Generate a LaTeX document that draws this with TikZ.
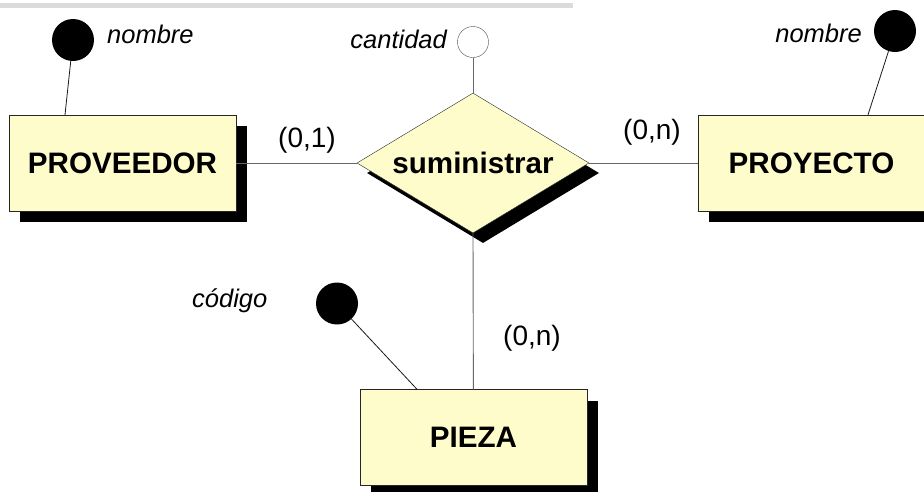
\documentclass[tikz,border=0pt]{standalone}
\usepackage{fontspec}
\setmainfont{Liberation Sans}
\usetikzlibrary{shapes.geometric,shadows}
\newcommand{\Grande}[1]{{\fontsize{28}{30}\selectfont #1}}
\newcommand{\Titulo}[1]{{\fontsize{29.6}{32}\selectfont\bfseries #1}}
\newcommand{\Atr}[1]{{\fontsize{25.5}{28}\selectfont\itshape #1}}

\begin{document}
\begin{tikzpicture}[x=1pt, y=-1pt,
  entidad/.style={draw=black!85, fill=yellow!20, rectangle, minimum width=227pt,
    minimum height=96pt, inner sep=0pt,
    drop shadow={shadow xshift=11pt, shadow yshift=-11pt, fill=black, opacity=1}},
  relacion/.style={draw=black!85, fill=yellow!20, diamond, aspect=1.657,
    minimum width=232pt, minimum height=140pt, inner sep=0pt,
    drop shadow={shadow xshift=10pt, shadow yshift=-10pt, fill=black, opacity=1}},
  clave/.style={circle, fill=black, minimum size=42pt, inner sep=0pt},
  simple/.style={circle, draw=black!70, fill=white, minimum size=31pt, inner sep=0pt},
  enlace/.style={draw=black!60, line width=0.9pt},
  rotulo/.style={inner sep=0pt}]

  \useasboundingbox (0,0) rectangle (924,491);
  \fill[black!14] (0,3) rectangle (573,8);

  % entidades y relacion
  \node[entidad] (prov) at (122.5,163) {\Titulo{PROVEEDOR}};
  \node[entidad] (proy) at (811.5,163) {\Titulo{PROYECTO}};
  \node[entidad] (pieza) at (473.5,437.5) {\Titulo{PIEZA}};
  \node[relacion] (sum) at (473,163) {\Titulo{suministrar}};

  % atributos
  \node[clave] (nom1) at (73,40) {};
  \node[clave] (nom2) at (895,31) {};
  \node[clave] (cod) at (337,303.5) {};
  \node[simple] (cant) at (473,42) {};

  \node[rotulo, anchor=base west] (tnom1) at (107,43) {\Atr{nombre}};
  \node[rotulo, anchor=base east] (tnom2) at (862,42) {\Atr{nombre}};
  \node[rotulo, anchor=base west] (tcod) at (192,307) {\Atr{código}};
  \node[rotulo, anchor=base east] (tcant) at (447,48) {\Atr{cantidad}};

  % cardinalidades
  \node[rotulo] (c1) at (307,140) {\Grande{(0,1)}};
  \node[rotulo] (c2) at (652,132) {\Grande{(0,n)}};
  \node[rotulo] (c3) at (532,338) {\Grande{(0,n)}};

  \draw[enlace] (prov) -- (sum.west); % PROVEEDOR-suministrar
  \draw[enlace] (sum.east) -- (proy); % suministrar-PROYECTO
  \draw[enlace] (sum.south) -- (pieza); % suministrar-PIEZA
  \draw[enlace] (cant) -- (sum.north);

  \draw[black!90, line width=0.8pt] (nom1) -- ([xshift=-57.5pt]prov.north);
  \draw[black!90, line width=0.8pt] (nom2) -- ([xshift=56.5pt]proy.north);
  \draw[black!90, line width=0.8pt] (cod) -- ([xshift=-56.5pt]pieza.north);

\end{tikzpicture}
\end{document}
